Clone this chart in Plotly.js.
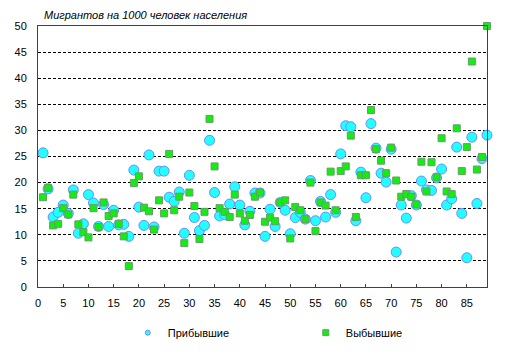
<!DOCTYPE html>
<html>
<head>
<meta charset="utf-8">
<script src="https://cdn.plot.ly/plotly-3.0.1.min.js"></script>
<style>html,body{margin:0;padding:0;background:#fff;}#chart{width:509px;height:359px;}</style>
</head>
<body>
<div id="chart"></div>
<script>
const regionIndex = [];
for (let i = 1; i <= 89; i++) regionIndex.push(i);

const arrivals = [
  25.7, 18.8, 13.4, 14.3, 15.7, 14.1, 18.6, 10.3, 12.1, 17.7,
  16.1, 11.6, 15.8, 11.6, 14.7, 11.9, 12.0, 9.7, 22.4, 15.3,
  11.8, 25.3, 11.5, 22.2, 22.2, 17.2, 16.4, 18.2, 10.3, 21.4,
  13.3, 10.8, 11.8, 28.1, 18.1, 13.6, 13.9, 15.9, 19.2, 15.7,
  11.9, 14.5, 18.0, 18.0, 9.7, 14.9, 11.6, 16.2, 14.7, 10.2,
  13.3, 14.3, 13.0, 20.4, 12.7, 16.4, 13.4, 17.7, 14.3, 25.5,
  30.9, 30.7, 12.7, 22.0, 17.1, 31.3, 26.6, 21.8, 20.1, 26.4,
  6.7, 15.7, 13.2, 17.5, 15.7, 20.3, 18.6, 18.5, 20.9, 22.6,
  15.7, 16.9, 26.8, 14.1, 5.6, 28.7, 16.0, 24.6, 29.1
];

const departures = [
  17.2, 19.0, 11.8, 12.1, 15.1, 13.9, 17.7, 12.0, 10.5, 9.5,
  15.1, 11.5, 16.2, 13.6, 14.1, 12.1, 9.7, 4.0, 19.9, 21.2,
  15.2, 14.5, 11.0, 16.6, 14.1, 25.5, 14.7, 17.3, 8.4, 18.1,
  15.5, 9.2, 14.4, 32.2, 23.1, 15.1, 14.4, 13.4, 17.7, 14.1,
  12.7, 13.8, 17.3, 18.1, 12.5, 13.3, 12.6, 16.2, 16.6, 9.3,
  15.3, 14.7, 13.0, 20.0, 10.7, 16.2, 15.6, 22.1, 14.7, 22.2,
  23.1, 29.0, 13.4, 21.4, 21.4, 33.9, 26.4, 24.2, 21.8, 26.7,
  20.4, 17.3, 17.8, 17.3, 15.8, 24.0, 18.3, 23.9, 21.0, 28.5,
  18.3, 17.8, 30.4, 22.2, 26.8, 43.2, 22.5, 24.9, 50.0
];

const xTicks = [0, 5, 10, 15, 20, 25, 30, 35, 40, 45, 50, 55, 60, 65, 70, 75, 80, 85];
const yTicks = [0, 5, 10, 15, 20, 25, 30, 35, 40, 45, 50];
const seriesNames = ['Прибывшие', 'Выбывшие'];
const titleText = 'Мигрантов на 1000 человек населения';

const cyanMarker = { symbol: 'circle', color: '#22ffff', line: { color: '#6b8cff', width: 1 } };
const greenMarker = { symbol: 'square', color: '#11ee11', line: { color: '#6a9a6a', width: 1 } };

const traces = [
  {
    type: 'scatter', mode: 'markers', name: seriesNames[0], showlegend: false, legendgroup: 'a',
    x: regionIndex, y: arrivals, cliponaxis: false,
    marker: Object.assign({ size: 10 }, cyanMarker)
  },
  {
    type: 'scatter', mode: 'markers', name: seriesNames[1], showlegend: false, legendgroup: 'b',
    x: regionIndex, y: departures, cliponaxis: false,
    marker: Object.assign({ size: 7 }, greenMarker)
  },
  {
    type: 'scatter', mode: 'markers', name: seriesNames[0], legendgroup: 'a',
    x: [null], y: [null], marker: Object.assign({ size: 5 }, cyanMarker)
  },
  {
    type: 'scatter', mode: 'markers', name: seriesNames[1], legendgroup: 'b',
    x: [null], y: [null], marker: Object.assign({ size: 6 }, greenMarker)
  }
];

const layout = {
  width: 509, height: 359,
  margin: { l: 38, r: 22, t: 26, b: 64 },
  paper_bgcolor: '#ffffff', plot_bgcolor: '#ffffff',
  font: { family: 'Arial, "Liberation Sans", sans-serif', size: 11, color: '#000' },
  showlegend: true,
  legend: {
    orientation: 'h', x: 0.2, xanchor: 'left', y: -0.175, yanchor: 'middle',
    entrywidth: 133, font: { size: 11, color: '#000' }, itemwidth: 30,
    bgcolor: 'rgba(0,0,0,0)'
  },
  xaxis: {
    range: [0, 89], tickvals: xTicks, ticktext: xTicks.map(String),
    showgrid: false, zeroline: false, showline: true, mirror: true,
    linecolor: '#404040', linewidth: 1, ticks: 'inside', ticklen: 3, tickcolor: '#404040',
    ticklabelstandoff: 6, tickfont: { size: 11, color: '#000' }
  },
  yaxis: {
    range: [0, 50], tickvals: yTicks, ticktext: yTicks.map(String),
    showgrid: true, gridcolor: '#000', gridwidth: 1, griddash: '3px,2px',
    zeroline: false, showline: true, mirror: true,
    linecolor: '#404040', linewidth: 1, ticks: '',
    ticklabelstandoff: 8, tickfont: { size: 11, color: '#000' }
  },
  annotations: [{
    text: '<i>' + titleText + '</i>', xref: 'paper', yref: 'paper',
    x: 0.009, xanchor: 'left', y: 1.041, yanchor: 'middle', showarrow: false,
    font: { size: 11, color: '#000' }
  }]
};

Plotly.newPlot('chart', traces, layout, { displayModeBar: false, staticPlot: true });
</script>
</body>
</html>
